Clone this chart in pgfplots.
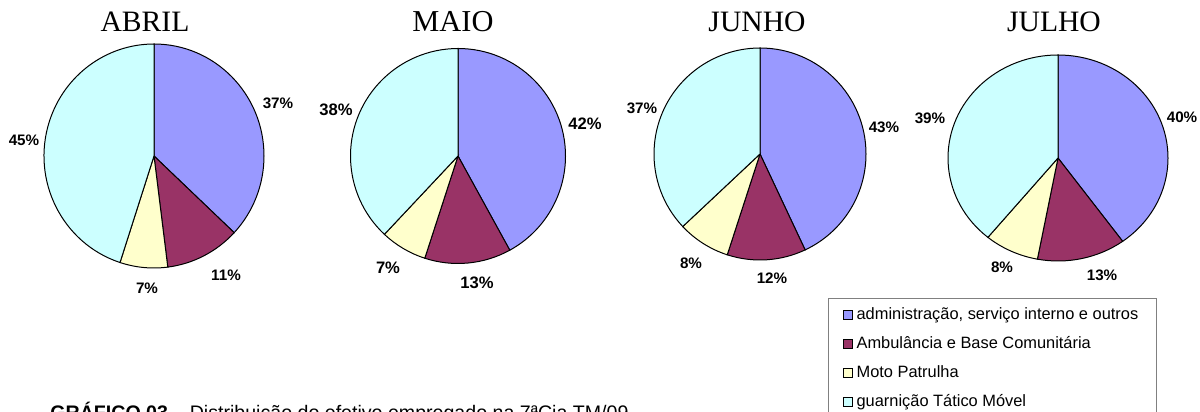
\documentclass[border=0pt]{standalone}
\usepackage{pgfplots}
\usepackage{pgfplotstable}
\pgfplotsset{compat=1.18}
\usepackage{fontspec}
\setmainfont{Liberation Serif}
\newfontfamily\arial{Liberation Sans}

\definecolor{cadm}{HTML}{9999FF}
\definecolor{camb}{HTML}{993366}
\definecolor{cmoto}{HTML}{FFFFCC}
\definecolor{cguar}{HTML}{CCFFFF}

% percentuais por mes
\pgfplotstableread{
mes   adm amb moto guarn
ABRIL 37  11  7    45
MAIO  42  13  7    38
JUNHO 43  12  8    37
JULHO 40  13  8    39
}\dados

% uma fatia: cx cy rx ry inicio fim cor
\newcommand{\fatia}[7]{%
  \edef\tmp{\noexpand\filldraw[fill=#7,draw=black,line width=0.5pt]
    (axis cs:#1,#2) -- ++(#5:#3 and #4)
    arc[start angle=#5,end angle=#6,x radius=#3,y radius=#4] -- cycle;}\tmp}

% uma pizza: linha cx cy rx ry (em px)
\newcommand{\pizza}[5]{%
  \pgfplotstablegetelem{#1}{adm}\of\dados \let\va\pgfplotsretval
  \pgfplotstablegetelem{#1}{amb}\of\dados \let\vb\pgfplotsretval
  \pgfplotstablegetelem{#1}{moto}\of\dados \let\vc\pgfplotsretval
  \pgfplotstablegetelem{#1}{guarn}\of\dados \let\vd\pgfplotsretval
  \pgfmathsetmacro\aB{90-3.6*\va}
  \pgfmathsetmacro\aC{\aB-3.6*\vb}
  \pgfmathsetmacro\aD{\aC-3.6*\vc}
  \pgfmathsetmacro\aE{\aD-3.6*\vd}
  \pgfmathsetmacro\prx{0.5*#4}
  \pgfmathsetmacro\pry{0.5*#5}
  \fatia{#2}{#3}{\prx pt}{\pry pt}{90}{\aB}{cadm}
  \fatia{#2}{#3}{\prx pt}{\pry pt}{\aB}{\aC}{camb}
  \fatia{#2}{#3}{\prx pt}{\pry pt}{\aC}{\aD}{cmoto}
  \fatia{#2}{#3}{\prx pt}{\pry pt}{\aD}{\aE}{cguar}
}

\tikzset{rot/.style={font=\arial\bfseries\fontsize{7.6}{9}\selectfont, inner sep=0pt},
  rotm/.style={font=\arial\bfseries\fontsize{8.3}{10}\selectfont, inner sep=0pt},
  tit/.style={anchor=base, font=\fontsize{14.8}{17}\selectfont}}

\begin{document}
\begin{tikzpicture}
\begin{axis}[
  at={(0,0)}, anchor=south west,
  x=0.5pt, y=0.5pt,
  xmin=0, xmax=1200, ymin=0, ymax=412,
  hide axis, clip=false,
  legend cell align=left,
  legend image code/.code={\draw[#1,line width=0.5pt] (0pt,-2.25pt) rectangle (4.5pt,2.25pt);},
  legend style={at={(axis cs:828,114)}, anchor=north west,
    draw=gray, line width=0.6pt,
    font=\arial\fontsize{8.2}{9.5}\selectfont,
    row sep=3pt, inner xsep=7pt, inner ysep=2.5pt,
    /tikz/every even column/.append style={column sep=1.5pt}},
]
\pizza{0}{154}{256}{110}{112}
\pizza{1}{458}{256}{107.5}{107.5}
\pizza{2}{760}{258}{106}{106}
\pizza{3}{1058}{254}{110}{103}

\node[tit] at (axis cs:145,380) {ABRIL};
\node[tit, font=\fontsize{15.2}{17}\selectfont] at (axis cs:453,380) {MAIO};
\node[tit] at (axis cs:757,380) {JUNHO};
\node[tit] at (axis cs:1054,380) {JULHO};

\node[rot] at (axis cs:278,309) {37\%};
\node[rot] at (axis cs:226,137) {11\%};
\node[rot] at (axis cs:147,124) {7\%};
\node[rot] at (axis cs:24,272) {45\%};

\node[rotm] at (axis cs:585,288) {42\%};
\node[rotm] at (axis cs:477,129) {13\%};
\node[rotm] at (axis cs:388,144) {7\%};
\node[rotm] at (axis cs:336,302) {38\%};

\node[rot] at (axis cs:884,285) {43\%};
\node[rot] at (axis cs:772,134) {12\%};
\node[rot] at (axis cs:691,149) {8\%};
\node[rot] at (axis cs:642,304) {37\%};

\node[rot] at (axis cs:1182,295) {40\%};
\node[rot] at (axis cs:1102,137) {13\%};
\node[rot] at (axis cs:1002,145) {8\%};
\node[rot] at (axis cs:930,294) {39\%};

\node[anchor=base west, inner sep=0pt, font=\arial\fontsize{9.8}{11}\selectfont]
  at (axis cs:50,-8) {\textbf{GRÁFICO 03} – Distribuição do efetivo empregado na 7ªCia TM/09};

\addlegendimage{fill=cadm,draw=black}
\addlegendentry{administração, serviço interno e outros}
\addlegendimage{fill=camb,draw=black}
\addlegendentry{Ambulância e Base Comunitária}
\addlegendimage{fill=cmoto,draw=black}
\addlegendentry{Moto Patrulha}
\addlegendimage{fill=cguar,draw=black}
\addlegendentry{guarnição Tático Móvel}
\end{axis}
\pgfresetboundingbox
\path[use as bounding box] (0,0) rectangle (600pt,206pt);
\end{tikzpicture}
\end{document}
